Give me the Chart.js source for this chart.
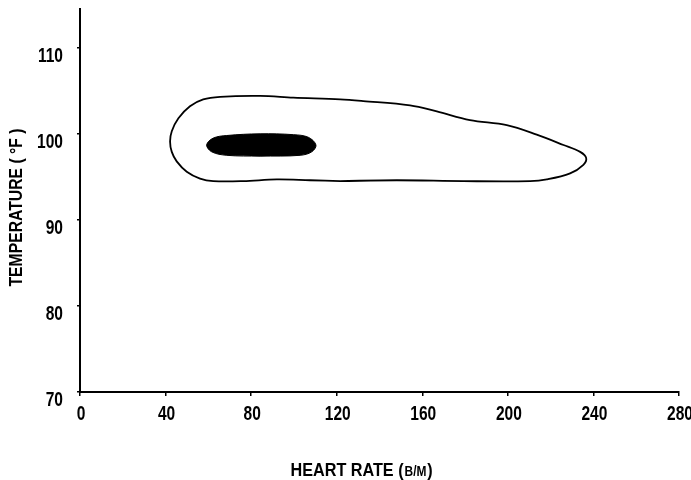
<!DOCTYPE html>
<html>
<head>
<meta charset="utf-8">
<script src="https://cdn.jsdelivr.net/npm/chart.js@4/dist/chart.umd.min.js"></script>
<style>
  html, body { margin: 0; padding: 0; background: #fff; }
  #wrap { width: 691px; height: 480px; position: relative; }
</style>
</head>
<body>
<div id="wrap"><canvas id="chart"></canvas></div>
<script>
// Axis ticks
const heartRateTicks = [0, 40, 80, 120, 160, 200, 240, 280];
const temperatureTicks = [70, 80, 90, 100, 110];

// Outer contour (closed), traced around the region
const outerHeartRate = [121.6, 107.5, 92.0, 76.3, 62.3, 56.1, 49.9, 45.2, 42.9, 42.1, 42.9, 46.0, 51.4, 57.6, 65.5, 84.2, 99.7, 121.6, 132.4, 154.3, 166.8, 182.3, 199.5, 213.5, 226.0, 233.8, 236.6, 235.3, 229.1, 218.2, 210.4, 179.2, 148.1, 121.6];
const outerTemperature = [94.5, 94.6, 94.7, 94.5, 94.5, 94.8, 95.6, 96.8, 97.9, 99.1, 100.3, 101.8, 103.2, 104.0, 104.3, 104.4, 104.2, 104.0, 103.8, 103.3, 102.6, 101.6, 101.0, 99.9, 98.7, 97.9, 97.2, 96.4, 95.4, 94.7, 94.5, 94.5, 94.6, 94.5];

// Inner core region (filled)
const innerHeartRate = [84.2, 68.6, 61.6, 59.2, 62.3, 68.6, 84.2, 99.7, 106.7, 110.3, 108.3, 102.9, 84.2];
const innerTemperature = [97.4, 97.5, 97.9, 98.7, 99.5, 99.8, 100.0, 99.9, 99.6, 98.7, 97.9, 97.5, 97.4];

// Axis titles
const xTitleMain = 'HEART RATE (';
const xTitleUnit = 'B/M';
const xTitleClose = ')';
const yTitle = 'TEMPERATURE ( °F )';

const toPoints = (xs, ys) => xs.map((x, i) => ({ x: x, y: ys[i] }));

const FONT = "'Liberation Sans', Arial, sans-serif";

// Draws text squeezed horizontally to give a condensed face
function condensedText(ctx, text, x, y, sx, align, baseline, rotate) {
  ctx.save();
  ctx.translate(x, y);
  if (rotate) ctx.rotate(rotate);
  ctx.scale(sx, 1);
  ctx.textAlign = align;
  ctx.textBaseline = baseline;
  ctx.fillText(text, 0, 0);
  ctx.restore();
}

// Tick labels and axis titles in a condensed bold face
const condensedLabels = {
  id: 'condensedLabels',
  afterDraw(chart) {
    const ctx = chart.ctx;
    const xs = chart.scales.x;
    const ys = chart.scales.y;
    ctx.save();
    ctx.fillStyle = '#000';

    ctx.font = 'bold 21px ' + FONT;
    heartRateTicks.forEach(v => {
      condensedText(ctx, String(v), xs.getPixelForValue(v) + 1, xs.top + 22, 0.74, 'center', 'middle');
    });
    temperatureTicks.forEach(v => {
      condensedText(ctx, String(v), ys.right - 17, ys.getPixelForValue(v) + 8, 0.74, 'right', 'middle');
    });

    // x title: caps with small-cap unit
    const big = 'bold 19px ' + FONT;
    const small = 'bold 14px ' + FONT;
    ctx.font = big;
    const w1 = ctx.measureText(xTitleMain).width;
    const w3 = ctx.measureText(xTitleClose).width;
    ctx.font = small;
    const w2 = ctx.measureText(xTitleUnit).width + 2;
    const targetW = 142;
    const sx = targetW / (w1 + w2 + w3);
    const cx = (xs.left + xs.right) / 2 - 18;
    let x0 = cx - targetW / 2;
    const base = 476;
    ctx.font = big;
    condensedText(ctx, xTitleMain, x0, base, sx, 'left', 'alphabetic');
    x0 += w1 * sx + 1;
    ctx.font = small;
    condensedText(ctx, xTitleUnit, x0, base, sx, 'left', 'alphabetic');
    x0 += (w2 - 1) * sx;
    ctx.font = big;
    condensedText(ctx, xTitleClose, x0, base, sx, 'left', 'alphabetic');

    // y title, rotated
    ctx.font = 'bold 18px ' + FONT;
    const yw = ctx.measureText(yTitle).width;
    condensedText(ctx, yTitle, 17, (ys.top + ys.bottom) / 2 + 7, 158 / yw, 'center', 'middle', -Math.PI / 2);

    ctx.restore();
  }
};

new Chart(document.getElementById('chart'), {
  type: 'scatter',
  data: {
    datasets: [
      {
        data: toPoints(outerHeartRate, outerTemperature),
        showLine: true,
        borderColor: '#000',
        borderWidth: 1.8,
        pointRadius: 0,
        tension: 0.35,
        fill: false
      },
      {
        data: toPoints(innerHeartRate, innerTemperature),
        showLine: true,
        borderColor: '#000',
        backgroundColor: '#000',
        borderWidth: 1,
        pointRadius: 0,
        tension: 0.35,
        fill: 'shape'
      }
    ]
  },
  options: {
    responsive: true,
    maintainAspectRatio: false,
    animation: false,
    layout: { padding: { top: 9, right: 12, bottom: 0, left: 0 } },
    plugins: { legend: { display: false }, tooltip: { enabled: false } },
    scales: {
      x: {
        type: 'linear',
        min: 0,
        max: 280,
        afterBuildTicks: s => { s.ticks = heartRateTicks.map(v => ({ value: v })); },
        afterFit: s => { s.height = 88; },
        border: { display: true, color: '#000', width: 2 },
        grid: { display: true, drawOnChartArea: false, drawTicks: true, tickLength: 4, color: '#000', lineWidth: 1.5 },
        ticks: { display: false },
        title: { display: false }
      },
      y: {
        type: 'linear',
        min: 70,
        max: 114.5,
        afterBuildTicks: s => { s.ticks = temperatureTicks.map(v => ({ value: v })); },
        afterFit: s => { s.width = 80; },
        border: { display: true, color: '#000', width: 2 },
        grid: { display: true, drawOnChartArea: false, drawTicks: true, tickLength: 3, color: '#000', lineWidth: 1.5 },
        ticks: { display: false },
        title: { display: false }
      }
    }
  },
  plugins: [condensedLabels]
});
</script>
</body>
</html>
